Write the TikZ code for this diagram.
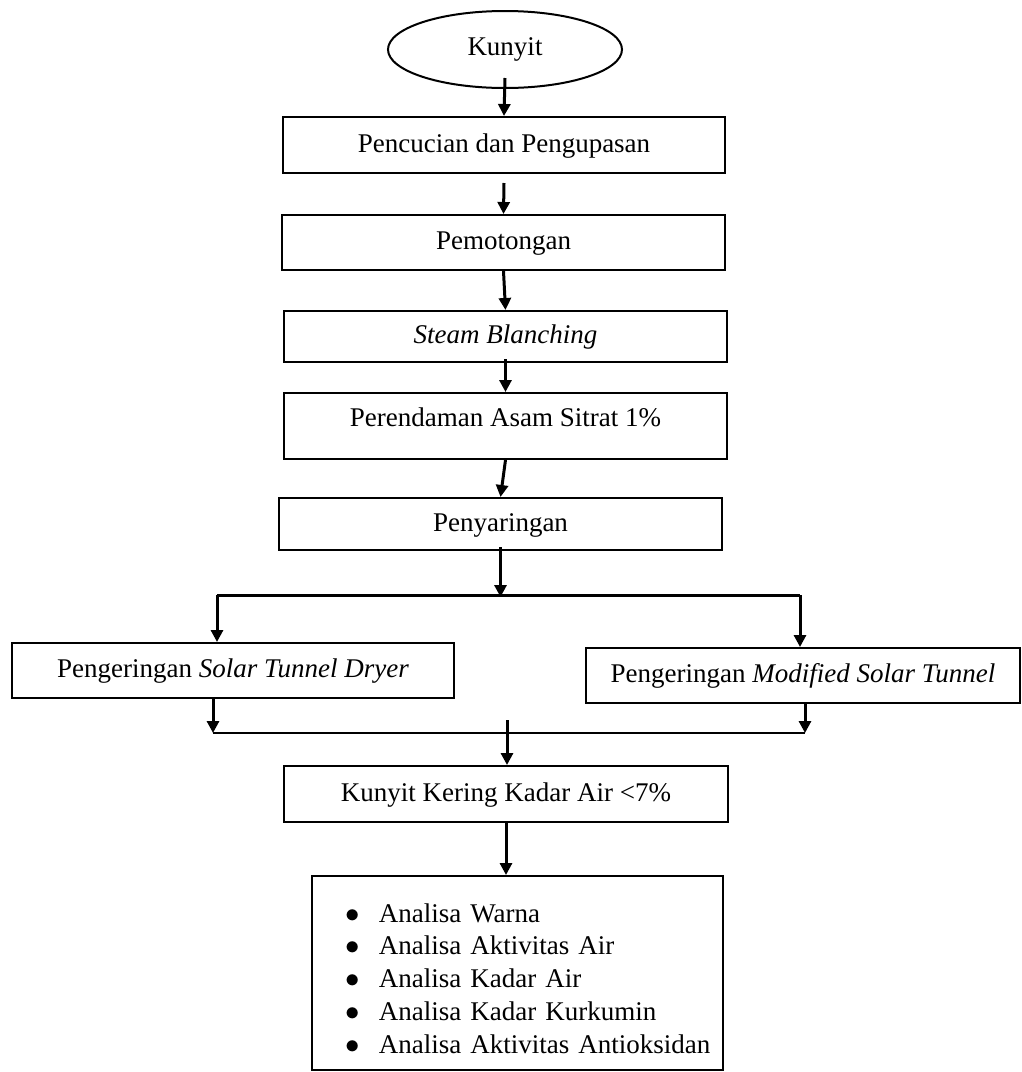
\documentclass[tikz,border=0pt]{standalone}
\usepackage{fontspec}
\setmainfont{Liberation Serif}
\usetikzlibrary{shapes.geometric,arrows.meta}

\tikzset{
  proses/.style={draw,line width=1pt,minimum height=27.5pt,inner sep=2pt,text height=10pt,text depth=3pt},
  panah/.style={-{Triangle[length=6pt,width=6pt]},line width=1.5pt},
}

\begin{document}
\begin{tikzpicture}[x=0.5pt,y=-0.5pt,font=\fontsize{13.5pt}{16.4pt}\selectfont]
\useasboundingbox (0,0) rectangle (1022,1072);

\node[ellipse,draw,line width=1pt,minimum width=117pt,minimum height=38.5pt,inner sep=0pt] (kunyit) at (505,49.5) {Kunyit};
\node[proses,minimum width=221pt,minimum height=28pt] (cuci) at (504,145) {Pencucian dan Pengupasan};
\node[proses,minimum width=221.5pt] (potong) at (503.5,242.5) {Pemotongan};
\node[proses,minimum width=221.5pt,minimum height=25.5pt] (steam) at (505.5,336.5) {\itshape Steam Blanching};
\node[proses,minimum width=221.5pt,minimum height=33pt,text depth=10pt] (rendam) at (505.5,426) {Perendaman Asam Sitrat 1\%};
\node[proses,minimum width=221.5pt,minimum height=26pt] (saring) at (500.5,524) {Penyaringan};

\node[proses,minimum width=221pt] (dryer) at (233,670.5) {Pengeringan \textit{Solar Tunnel Dryer}};
\node[proses,minimum width=217pt] (modif) at (803,675.5) {Pengeringan \textit{Modified Solar Tunnel}};

\node[proses,minimum width=222pt,minimum height=28pt] (kering) at (506,794) {Kunyit Kering Kadar Air <7\%};
\node[draw,line width=1pt,minimum width=205.5pt,minimum height=97pt,inner xsep=0pt,
  text width=200pt,align=left,text height=15pt,text depth=66pt] (analisa) at (517.5,973)
  {\hspace*{13.75pt}$\bullet$\hspace{9.75pt}Analisa Warna\\
   \hspace*{13.75pt}$\bullet$\hspace{9.75pt}Analisa Aktivitas Air\\
   \hspace*{13.75pt}$\bullet$\hspace{9.75pt}Analisa Kadar Air\\
   \hspace*{13.75pt}$\bullet$\hspace{9.75pt}Analisa Kadar Kurkumin\\
   \hspace*{13.75pt}$\bullet$\hspace{9.75pt}Analisa Aktivitas Antioksidan};

\coordinate (split) at (500.5,597);
\coordinate (bl) at (217,595);
\coordinate (br) at (800,595);
\coordinate (ml) at (213,733);
\coordinate (mr) at (805,733);
\coordinate (join) at (507,720);

\draw[panah] ([yshift=5.5pt]kunyit.south) -- (cuci.north);
\draw[panah] ([yshift=-4.5pt]cuci.south) -- (potong.north);
\draw[panah] (potong.south) -- (steam.north);
\draw[panah] ([yshift=2pt]steam.south) -- (rendam.north);
\draw[panah] (rendam.south) -- (saring.north);
\draw[panah] ([yshift=2pt]saring.south) -- (split);

\draw[line width=1.5pt] (bl) -- (br);
\draw[panah] (bl) -- (bl |- dryer.north);
\draw[panah] (br) -- (br |- modif.north);

\draw[panah] (dryer.south -| ml) -- (ml);
\draw[panah] (modif.south -| mr) -- (mr);
\draw[line width=0.8pt] (ml) -- (mr);
\draw[panah] (join) -- (join |- kering.north);

\draw[panah] (kering.south) -- (kering.south |- analisa.north);
\end{tikzpicture}
\end{document}
